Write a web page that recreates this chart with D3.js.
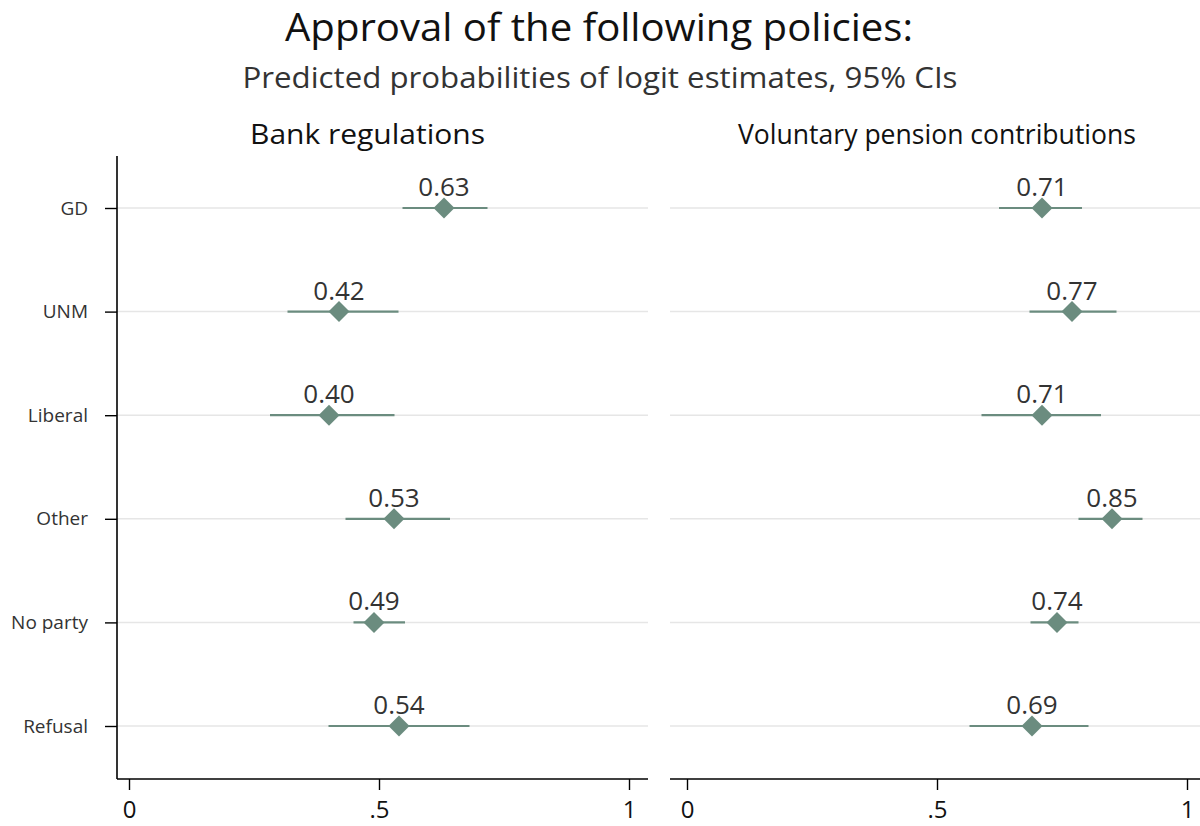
<!DOCTYPE html>
<html>
<head>
<meta charset="utf-8">
<script src="https://cdn.jsdelivr.net/npm/d3@7"></script>
<style>
  html, body { margin: 0; padding: 0; background: #fff; }
  svg { display: block; }
  text { font-family: "Open Sans", "DejaVu Sans", sans-serif; }
</style>
</head>
<body>
<svg id="chart" width="1200" height="826"></svg>
<script>
// Party groups (rows, top to bottom)
const parties = ["GD", "UNM", "Liberal", "Other", "No party", "Refusal"];

// Bank regulations: predicted probability and 95% CI bounds
const bankEst = [0.63, 0.42, 0.40, 0.53, 0.49, 0.54];
const bankLo  = [0.547, 0.317, 0.282, 0.433, 0.449, 0.399];
const bankHi  = [0.717, 0.539, 0.531, 0.642, 0.552, 0.681];

// Voluntary pension contributions: predicted probability and 95% CI bounds
const pensionEst = [0.71, 0.77, 0.71, 0.85, 0.74, 0.69];
const pensionLo  = [0.624, 0.685, 0.589, 0.783, 0.687, 0.565];
const pensionHi  = [0.790, 0.859, 0.828, 0.911, 0.783, 0.803];

// X axis ticks
const xTickValues = [0, 0.5, 1];
const xTickLabels = ["0", ".5", "1"];

const panelTitles = ["Bank regulations", "Voluntary pension contributions"];
const title = "Approval of the following policies:";
const subtitle = "Predicted probabilities of logit estimates, 95% CIs";

const svg = d3.select("#chart");
const markColor = "#6b8c7f";
const gridColor = "#e6e6e6";
const textColor = "#333333";

// Titles
svg.append("text")
  .attr("x", 599).attr("y", 41)
  .attr("text-anchor", "middle")
  .attr("font-size", 38)
  .attr("fill", "#111")
  .attr("textLength", 628).attr("lengthAdjust", "spacingAndGlyphs")
  .text(title);

svg.append("text")
  .attr("x", 600).attr("y", 88)
  .attr("text-anchor", "middle")
  .attr("font-size", 30)
  .attr("fill", "#333")
  .attr("textLength", 715).attr("lengthAdjust", "spacingAndGlyphs")
  .text(subtitle);

// Shared vertical scale for the rows
const y = d3.scalePoint()
  .domain(parties)
  .range([208, 726]);

const plotTop = 156, plotBottom = 779;

const panels = [
  { est: bankEst, lo: bankLo, hi: bankHi, left: 117, right: 648, x0: 129, x1: 629,
    title: panelTitles[0], titleX: 367.5, titleW: 235, yAxis: true },
  { est: pensionEst, lo: pensionLo, hi: pensionHi, left: 670, right: 1200, x0: 687, x1: 1187,
    title: panelTitles[1], titleX: 937, titleW: 398, yAxis: false }
];

panels.forEach(p => {
  const x = d3.scaleLinear().domain([0, 1]).range([p.x0, p.x1]);
  const g = svg.append("g");

  // Panel title
  g.append("text")
    .attr("x", p.titleX).attr("y", 144)
    .attr("text-anchor", "middle")
    .attr("font-size", 27)
    .attr("fill", "#111")
    .attr("textLength", p.titleW).attr("lengthAdjust", "spacingAndGlyphs")
    .text(p.title);

  // Horizontal gridlines per row
  g.selectAll("line.grid")
    .data(parties)
    .join("line")
    .attr("class", "grid")
    .attr("x1", p.left).attr("x2", p.right)
    .attr("y1", d => y(d)).attr("y2", d => y(d))
    .attr("stroke", gridColor)
    .attr("stroke-width", 1.5);

  // Bottom axis
  const xAxis = d3.axisBottom(x)
    .tickValues(xTickValues)
    .tickFormat((d, i) => xTickLabels[i])
    .tickSize(11)
    .tickPadding(11);
  const ax = g.append("g")
    .attr("transform", `translate(0,${plotBottom})`)
    .call(xAxis);
  ax.select(".domain").remove();
  ax.append("line")
    .attr("x1", p.left).attr("x2", p.right)
    .attr("y1", 0).attr("y2", 0)
    .attr("stroke", "#000").attr("stroke-width", 1.6);
  ax.selectAll(".tick line").attr("stroke", "#000").attr("stroke-width", 1.4);
  ax.selectAll(".tick text")
    .attr("font-size", 24)
    .attr("fill", "#111")
    .attr("font-family", "\"Open Sans\", sans-serif");

  // Left axis with party labels (first panel only)
  if (p.yAxis) {
    const yAxis = d3.axisLeft(y).tickSize(12).tickPadding(17);
    const ay = g.append("g")
      .attr("transform", `translate(${p.left},0)`)
      .call(yAxis);
    ay.select(".domain").remove();
    ay.append("line")
      .attr("x1", 0).attr("x2", 0)
      .attr("y1", plotTop).attr("y2", plotBottom)
      .attr("stroke", "#000").attr("stroke-width", 1.6);
    ay.selectAll(".tick line").attr("stroke", "#000").attr("stroke-width", 1.4);
    ay.selectAll(".tick text")
      .attr("font-size", 19)
      .attr("fill", textColor)
      .attr("font-family", "\"Open Sans\", sans-serif");
  }

  const rows = parties.map((d, i) => ({ party: d, est: p.est[i], lo: p.lo[i], hi: p.hi[i] }));

  // Confidence interval lines
  g.selectAll("line.ci")
    .data(rows)
    .join("line")
    .attr("class", "ci")
    .attr("x1", d => x(d.lo)).attr("x2", d => x(d.hi))
    .attr("y1", d => y(d.party)).attr("y2", d => y(d.party))
    .attr("stroke", markColor)
    .attr("stroke-width", 2.2);

  // Diamond markers for point estimates
  const dSym = d3.symbol().type(d3.symbolSquare).size(220);
  g.selectAll("path.pt")
    .data(rows)
    .join("path")
    .attr("class", "pt")
    .attr("d", dSym)
    .attr("transform", d => `translate(${x(d.est)},${y(d.party)}) rotate(45)`)
    .attr("fill", markColor);

  // Value labels
  g.selectAll("text.val")
    .data(rows)
    .join("text")
    .attr("class", "val")
    .attr("x", d => x(d.est))
    .attr("y", d => y(d.party) - 12)
    .attr("text-anchor", "middle")
    .attr("font-size", 26)
    .attr("fill", textColor)
    .text(d => d3.format(".2f")(d.est));
});
</script>
</body>
</html>
